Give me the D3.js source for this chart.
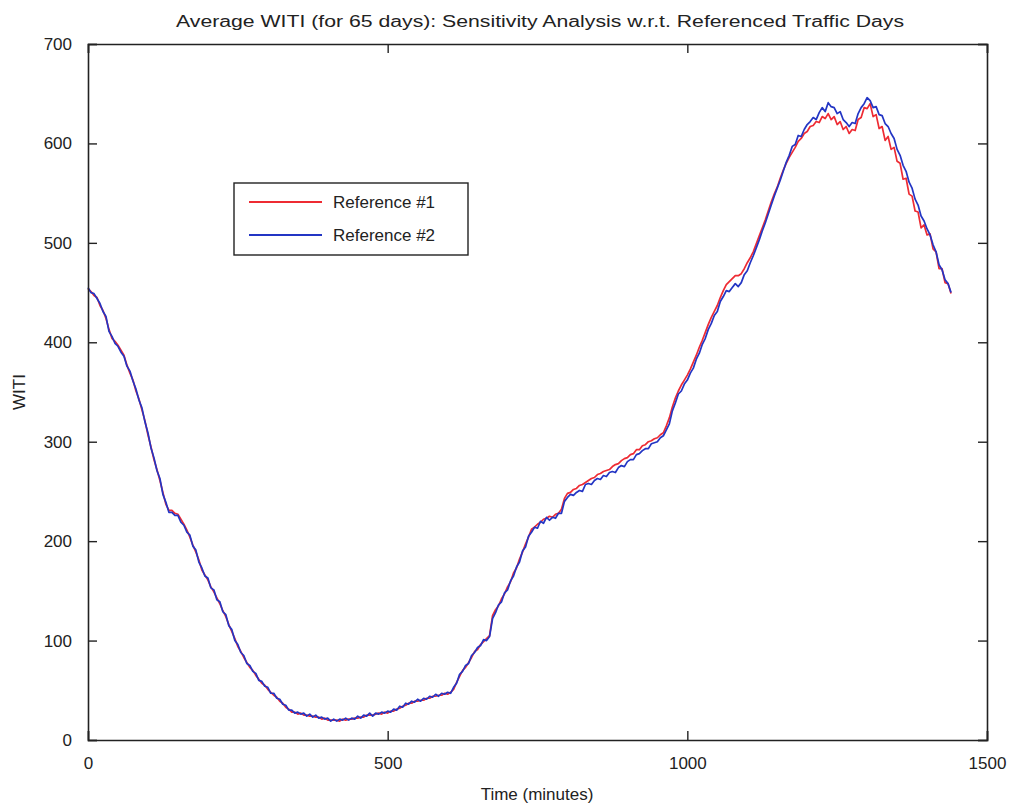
<!DOCTYPE html>
<html><head><meta charset="utf-8">
<script src="https://cdn.jsdelivr.net/npm/d3@7/dist/d3.min.js"></script>
<style>
body{margin:0;background:#fff;}
text{font-family:"Liberation Sans","DejaVu Sans",Arial,sans-serif;fill:#222;}
</style></head>
<body><svg id="chart" width="1012" height="809"></svg>
<script>
const titleText = "Average WITI (for 65 days): Sensitivity Analysis w.r.t. Referenced Traffic Days";
const xLabel = "Time (minutes)";
const yLabel = "WITI";
const seriesNames = ["Reference #1", "Reference #2"];
const xTicks = [0, 500, 1000, 1500];
const yTicks = [0, 100, 200, 300, 400, 500, 600, 700];
const timeStep = 5; // minutes between samples, t = 0..1440

const ref1 = [454,451,447,445,437,432,424,413,404,401,397,392,387,377,369,362,351,343,332,321,307,295,282,272,261,249,237,231,231,228,227,222,217,211,204,196,189,181,171,166,161,154,149,143,137,130,124,116,109,102,94,89,83,78,73,70,65,61,57,55,51,48,45,43,39,37,33,31,28,28,26,27,25,25,24,24,23,23,21,22,20,20,20,20,19,21,20,21,21,22,22,23,23,25,25,25,26,27,26,28,27,29,29,31,32,34,35,37,37,39,39,40,40,42,42,44,44,45,45,47,46,48,51,58,64,70,73,78,83,89,91,96,99,102,105,125,131,135,142,147,154,159,168,173,182,189,197,204,212,214,217,219,222,223,225,224,227,228,232,243,248,249,252,253,256,257,259,261,263,264,267,268,270,271,272,275,277,278,281,283,284,287,288,292,292,296,297,300,301,303,304,307,309,316,324,335,344,351,357,362,367,373,380,387,395,402,410,418,425,431,437,445,452,458,461,464,467,467,469,474,480,485,491,499,507,515,523,532,541,549,556,565,573,580,586,591,596,602,605,610,612,617,618,622,621,627,625,630,624,627,619,622,614,617,610,614,613,624,626,636,635,640,627,629,615,617,603,607,594,596,582,580,564,565,549,547,532,531,515,518,508,509,494,491,474,474,460,459,449];

const ref2 = [455,450,449,444,439,431,426,411,406,399,396,390,386,376,371,361,353,342,334,320,309,294,284,271,263,247,239,229,229,226,226,219,216,209,206,195,191,179,173,165,163,153,151,141,139,129,126,115,111,100,96,88,85,77,75,69,67,60,59,54,53,47,47,42,41,36,35,30,30,27,28,26,27,24,26,23,25,22,23,21,22,19,21,19,21,20,22,20,22,21,24,22,25,24,27,24,27,26,28,27,29,28,31,30,34,33,37,36,39,38,41,39,42,41,44,43,46,44,47,46,48,47,53,57,66,69,75,77,85,88,93,95,101,100,104,122,128,136,139,148,151,160,165,174,179,190,194,205,209,214,213,220,218,224,221,224,223,228,228,240,244,247,246,249,251,250,257,258,257,261,263,262,266,265,269,270,269,274,276,275,280,282,282,287,288,291,293,293,298,299,300,304,306,312,318,331,339,348,351,358,362,369,374,383,389,398,404,413,419,427,431,441,446,452,451,455,459,456,460,468,472,480,487,495,503,512,520,529,538,547,555,563,572,581,588,597,599,608,607,614,619,622,626,624,631,636,632,641,637,636,630,632,624,621,617,621,620,630,636,640,646,643,636,637,629,628,620,617,610,605,594,588,578,572,561,555,544,538,527,522,514,508,498,491,478,473,463,459,450];

const colors = ["#ee2b33", "#2335c4"];

const svg = d3.select("#chart");
const M = {left: 88, right: 987, top: 44, bottom: 740};
const x = d3.scaleLinear().domain([0, 1500]).range([M.left, M.right]);
const y = d3.scaleLinear().domain([0, 700]).range([M.bottom, M.top]);

svg.append("rect").attr("width", 1012).attr("height", 809).attr("fill", "#fff");

// data lines
const line = d3.line().x((d, i) => x(i * timeStep)).y(d => y(d));
[ref1, ref2].forEach((s, k) => {
  svg.append("path").datum(s).attr("d", line)
    .attr("fill", "none").attr("stroke", colors[k]).attr("stroke-width", 1.7)
    .attr("stroke-linejoin", "round");
});

// axes (MATLAB box style, inward ticks)
const tl = 9;
const axB = d3.axisBottom(x).tickValues(xTicks).tickSize(-tl).tickPadding(tl + 8).tickFormat(d3.format("d"));
const axT = d3.axisTop(x).tickValues(xTicks).tickSize(-tl).tickFormat("");
const axL = d3.axisLeft(y).tickValues(yTicks).tickSize(-tl).tickPadding(tl + 7).tickFormat(d3.format("d"));
const axR = d3.axisRight(y).tickValues(yTicks).tickSize(-tl).tickFormat("");
[[axB, `translate(0,${M.bottom})`], [axT, `translate(0,${M.top})`], [axL, `translate(${M.left},0)`], [axR, `translate(${M.right},0)`]]
  .forEach(([ax, tr]) => {
    const g = svg.append("g").attr("transform", tr).call(ax);
    g.select(".domain").attr("stroke", "#222").attr("stroke-width", 1.6);
    g.selectAll(".tick line").attr("stroke", "#222").attr("stroke-width", 1.4);
    g.selectAll(".tick text").attr("font-size", 17).attr("fill", "#222")
      .attr("font-family", '"Liberation Sans", Arial, sans-serif');
  });

// title and labels
svg.append("text").attr("x", 540).attr("y", 27).attr("text-anchor", "middle")
  .attr("font-size", 16).attr("textLength", 728).attr("lengthAdjust", "spacingAndGlyphs").text(titleText);
svg.append("text").attr("x", 537).attr("y", 800).attr("text-anchor", "middle")
  .attr("font-size", 17).text(xLabel);
svg.append("text").attr("transform", "translate(25,392) rotate(-90)").attr("text-anchor", "middle")
  .attr("font-size", 17).text(yLabel);

// legend
const lg = svg.append("g");
lg.append("rect").attr("x", 234).attr("y", 183).attr("width", 234).attr("height", 72)
  .attr("fill", "#fff").attr("stroke", "#222").attr("stroke-width", 1.4);
seriesNames.forEach((n, k) => {
  const yy = 202 + k * 33;
  lg.append("line").attr("x1", 249).attr("x2", 322).attr("y1", yy).attr("y2", yy)
    .attr("stroke", colors[k]).attr("stroke-width", 1.8);
  lg.append("text").attr("x", 333).attr("y", yy + 6).attr("font-size", 17).text(n);
});
</script></body></html>
